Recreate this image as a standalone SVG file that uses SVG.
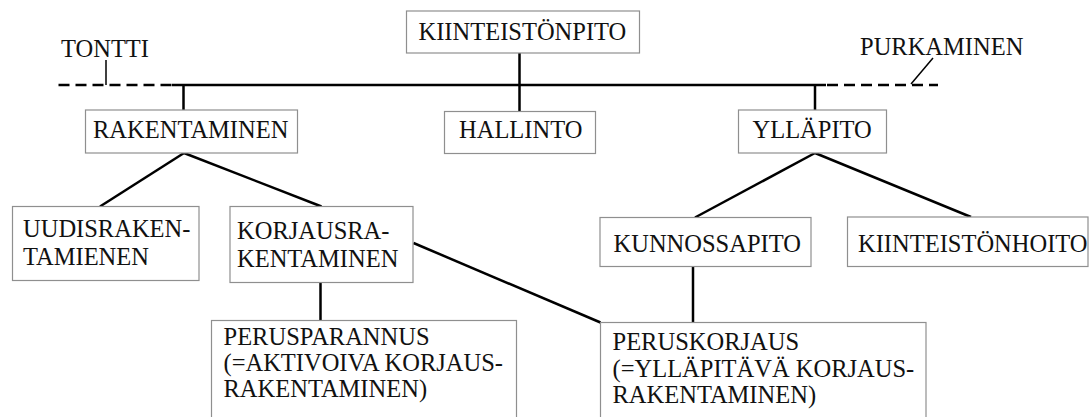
<svg xmlns="http://www.w3.org/2000/svg" width="1092" height="417" viewBox="0 0 1092 417">
<style>
  .box { fill: #ffffff; stroke: #8f8f8f; stroke-width: 1.2; }
  .t { font-family: "Liberation Serif", "Times New Roman", serif; font-size: 24.5px; fill: #111111; }
  .c { fill: none; stroke: #000000; stroke-width: 2.5; }
  .d { fill: none; stroke: #000000; stroke-width: 2.5; stroke-dasharray: 11 6; }
  .k { fill: none; stroke: #000000; stroke-width: 1.5; }
</style>
<rect width="1092" height="417" fill="#ffffff"/>
<g id="connectors">
  <path class="d" d="M58.5 85 H172"/>
  <path class="c" d="M172 85 H826"/>
  <path class="d" d="M827 85 H938"/>
  <path class="k" d="M106 60 V85"/>
  <path class="k" d="M933 58 L911 84"/>
  <path class="c" d="M519.5 53 V111.5"/>
  <path class="c" d="M183.5 85 V110"/>
  <path class="c" d="M815 85 V110"/>
  <path class="c" d="M184 153 L100 206.5"/>
  <path class="c" d="M184 153 L321.5 206.5"/>
  <path class="c" d="M320.5 282.5 V320.5"/>
  <path class="c" d="M413.5 243 L600.5 322.5"/>
  <path class="c" d="M815 153 L695 217.5"/>
  <path class="c" d="M815 153 L971 217"/>
  <path class="c" d="M693 266.5 V322.5"/>
</g>
<g id="tontti">
  <text class="t" x="61" y="57">TONTTI</text>
</g>
<g id="purkaminen">
  <text class="t" x="860" y="55">PURKAMINEN</text>
</g>
<g id="kiinteistonpito">
  <rect class="box" x="406.5" y="11" width="233" height="42"/>
  <text class="t" x="418.5" y="39.5">KIINTEISTÖNPITO</text>
</g>
<g id="rakentaminen">
  <rect class="box" x="85.5" y="110" width="212" height="43"/>
  <text class="t" x="93" y="137.5">RAKENTAMINEN</text>
</g>
<g id="hallinto">
  <rect class="box" x="444.5" y="111.5" width="151" height="42"/>
  <text class="t" x="459" y="137.5">HALLINTO</text>
</g>
<g id="yllapito">
  <rect class="box" x="738.5" y="110" width="148" height="43"/>
  <text class="t" x="752.5" y="138">YLLÄPITO</text>
</g>
<g id="uudisrakentaminen">
  <rect class="box" x="12.5" y="206.5" width="186.5" height="74"/>
  <text class="t" x="23" y="236.5">UUDISRAKEN-</text>
  <text class="t" x="23" y="264.5">TAMIENEN</text>
</g>
<g id="korjausrakentaminen">
  <rect class="box" x="230" y="206.5" width="183" height="76"/>
  <text class="t" x="237" y="239">KORJAUSRA-</text>
  <text class="t" x="237" y="266.5">KENTAMINEN</text>
</g>
<g id="kunnossapito">
  <rect class="box" x="600" y="217.5" width="211" height="49"/>
  <text class="t" x="613.5" y="251.5">KUNNOSSAPITO</text>
</g>
<g id="kiinteistonhoito">
  <rect class="box" x="847.5" y="217" width="240.5" height="49.5"/>
  <text class="t" x="858" y="251.5">KIINTEISTÖNHOITO</text>
</g>
<g id="perusparannus">
  <rect class="box" x="211.5" y="320.5" width="305" height="110"/>
  <text class="t" x="223.5" y="345">PERUSPARANNUS</text>
  <text class="t" x="223.5" y="371">(=AKTIVOIVA KORJAUS-</text>
  <text class="t" x="223.5" y="397">RAKENTAMINEN)</text>
</g>
<g id="peruskorjaus">
  <rect class="box" x="600.5" y="322.5" width="325.5" height="110"/>
  <text class="t" x="612.5" y="350">PERUSKORJAUS</text>
  <text class="t" x="612.5" y="376.5">(=YLLÄPITÄVÄ KORJAUS-</text>
  <text class="t" x="612.5" y="402.5">RAKENTAMINEN)</text>
</g>
</svg>
